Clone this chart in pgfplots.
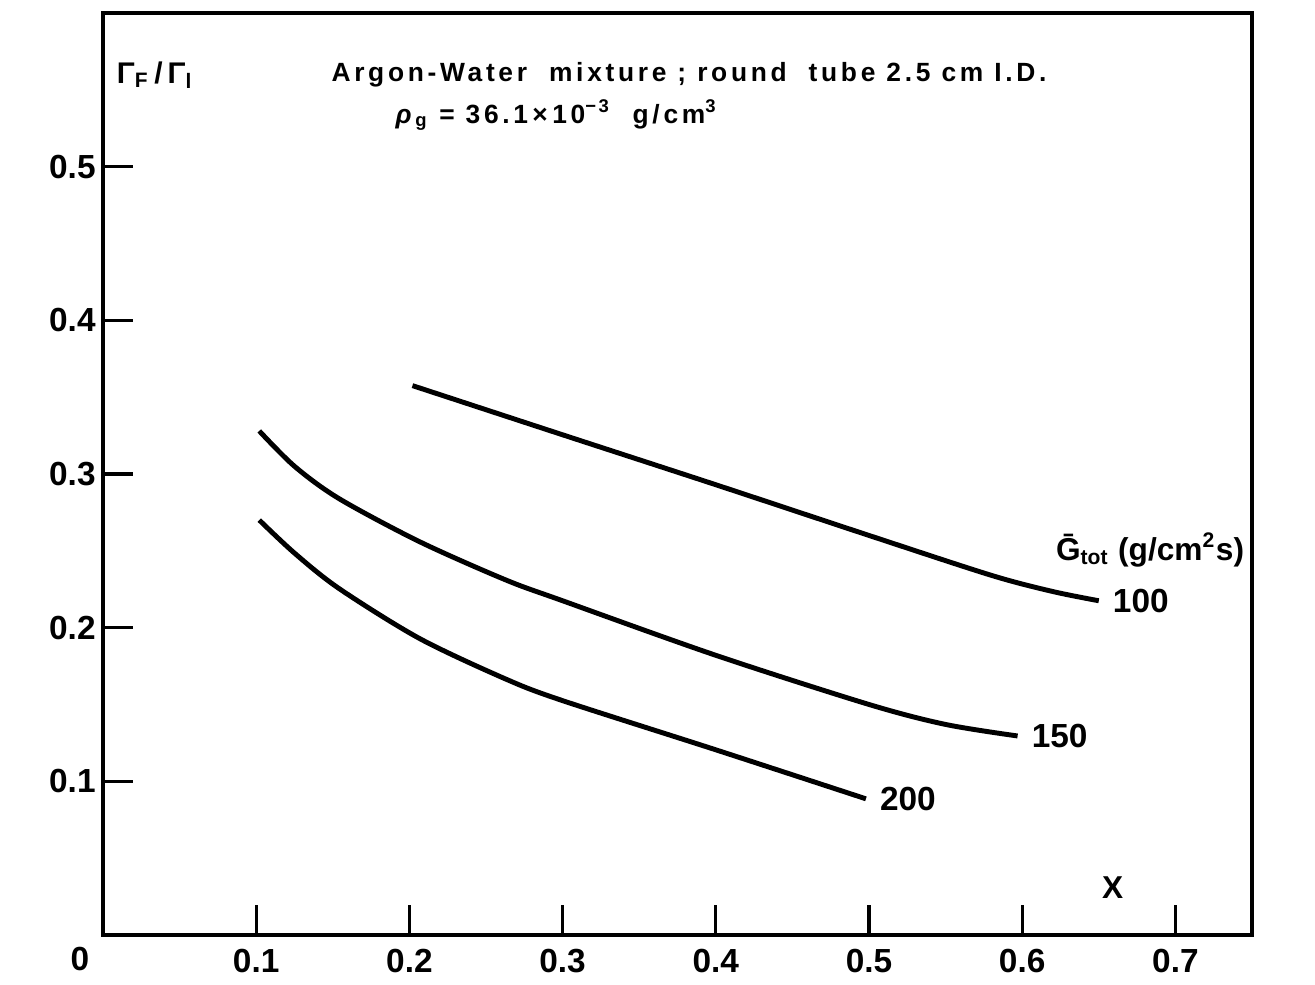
\documentclass[border=0pt]{standalone}
\usepackage{pgfplots}
\pgfplotsset{compat=1.18}
\usepackage{fontspec}
\setmainfont{Liberation Sans}
\newfontfamily\titlefont[LetterSpace=14]{Liberation Sans}

\begin{document}
\begin{tikzpicture}
\begin{axis}[
  scale only axis,
  width=11.49cm, height=9.22cm,
  xmin=0, xmax=0.75, ymin=0, ymax=0.6,
  xtick={0.1,0.2,0.3,0.4,0.5,0.6,0.7},
  xticklabels={0.1,0.2,0.3,0.4,0.5,0.6,0.7},
  ytick={0.1,0.2,0.3,0.4,0.5},
  yticklabels={0.1,0.2,0.3,0.4,0.5},
  tick align=inside, xtick pos=bottom, ytick pos=left,
  major tick length=0.3cm,
  axis line style={line width=0.9pt},
  every tick/.style={black, line width=0.9pt},
  tick label style={font=\fontsize{9.5}{10}\selectfont\bfseries},
  yticklabel style={xshift=0.05cm},
  xticklabel style={yshift=-0.02cm},
  clip=false,
]
% G_tot = 100
\addplot[black, no markers, line width=1.4pt, smooth] coordinates {(0.202,0.3575)(0.30,0.3255)(0.40,0.293)(0.50,0.260)(0.58,0.234)(0.62,0.2235)(0.650,0.2175)}
  node[right, pos=1, font=\fontsize{9.5}{10}\selectfont\bfseries] {100};
% G_tot = 150
\addplot[black, no markers, line width=1.4pt, smooth] coordinates {(0.102,0.328)(0.125,0.305)(0.154,0.284)(0.2065,0.256)(0.263,0.231)(0.30,0.2175)(0.40,0.182)(0.50,0.150)(0.55,0.137)(0.597,0.1295)}
  node[right, pos=1, font=\fontsize{9.5}{10}\selectfont\bfseries] {150};
% G_tot = 200
\addplot[black, no markers, line width=1.4pt, smooth] coordinates {(0.102,0.270)(0.125,0.2485)(0.154,0.2255)(0.2065,0.193)(0.263,0.1665)(0.30,0.1525)(0.40,0.1205)(0.498,0.0886)}
  node[right, pos=1, font=\fontsize{9.5}{10}\selectfont\bfseries] {200};

\node[font=\titlefont\fontsize{7.5}{9}\selectfont\bfseries] at (axis cs:0.3825,0.5596) {Argon-Water\ \ mixture ; round\ \ tube 2.5 cm I.D.};
\node[font=\titlefont\fontsize{7.5}{9}\selectfont\bfseries] at (axis cs:0.296,0.5335) {\textit{ρ}\textsubscript{g} = 36.1\,×\,10\textsuperscript{−3}\ \ g/cm\textsuperscript{3}};
\node[font=\fontsize{8.5}{9}\selectfont\bfseries] at (axis cs:0.034,0.5596) {Γ\textsubscript{F}\,/\,Γ\textsubscript{l}};
\node[font=\fontsize{9}{10}\selectfont\bfseries] at (axis cs:0.659,0.031) {X};
\node[anchor=west, font=\fontsize{9}{10}\selectfont\bfseries] at (axis cs:0.614,0.2505) {\=G\textsubscript{tot} (g/cm\textsuperscript{2}s)};
\node[font=\fontsize{9.5}{10}\selectfont\bfseries] at (axis cs:-0.015,-0.0155) {0};

\coordinate (O) at (rel axis cs:0,0);
\coordinate (T) at (rel axis cs:1,1);
\end{axis}
\path ([xshift=-1.03cm,yshift=-0.485cm]O) rectangle ([xshift=0.63cm,yshift=0.13cm]T);
\end{tikzpicture}
\end{document}
